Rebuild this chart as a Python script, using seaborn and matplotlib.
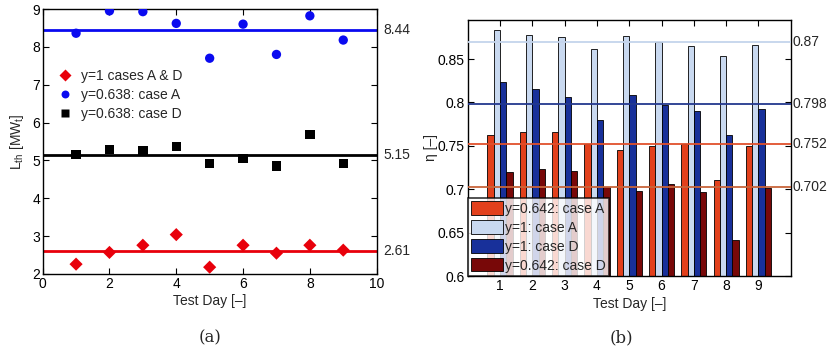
import numpy as np
import pandas as pd
import matplotlib
matplotlib.use("Agg")
import matplotlib.pyplot as plt
import seaborn as sns

# Test days
days = [1, 2, 3, 4, 5, 6, 7, 8, 9]

# Panel (a): thermal load per test day [MW_t]
load_y1_AD = [2.26, 2.57, 2.76, 3.04, 2.18, 2.76, 2.55, 2.76, 2.63]
load_y0638_A = [8.36, 8.95, 8.93, 8.62, 7.70, 8.60, 7.80, 8.82, 8.18]
load_y0638_D = [5.16, 5.29, 5.26, 5.36, 4.91, 5.05, 4.85, 5.69, 4.91]
load_means = [2.61, 8.44, 5.15]

# Panel (b): efficiency per test day [-]
eta_y0642_A = [0.762, 0.766, 0.766, 0.752, 0.745, 0.750, 0.752, 0.711, 0.750]
eta_y1_A = [0.883, 0.878, 0.875, 0.861, 0.877, 0.870, 0.865, 0.853, 0.866]
eta_y1_D = [0.823, 0.816, 0.806, 0.780, 0.808, 0.797, 0.790, 0.762, 0.792]
eta_y0642_D = [0.720, 0.723, 0.721, 0.703, 0.698, 0.706, 0.697, 0.642, 0.701]
eta_means = [0.87, 0.798, 0.752, 0.702]

series_labels = ["y=0.642: case A", "y=1: case A", "y=1: case D", "y=0.642: case D"]

sns.set_theme(style="white")
plt.rcParams["font.family"] = ["Liberation Sans", "DejaVu Sans"]
plt.rcParams["mathtext.fontset"] = "custom"
plt.rcParams["mathtext.rm"] = "Liberation Sans"

fig = plt.figure(figsize=(8.3, 3.52), dpi=100)
ax1 = fig.add_axes([0.0514, 0.2216, 0.4024, 0.7528])
ax2 = fig.add_axes([0.5635, 0.2159, 0.3892, 0.7273])

# ---------- (a) scatter of thermal load ----------
red, blue, black = "#e8000b", "#0a0af0", "#000000"
df_a = pd.DataFrame({
    "day": days * 3,
    "load": load_y1_AD + load_y0638_A + load_y0638_D,
    "series": (["y=1 cases A & D"] * 9 + ["y=0.638: case A"] * 9
               + ["y=0.638: case D"] * 9),
})
sns.scatterplot(data=df_a, x="day", y="load", hue="series", style="series",
                palette=[red, blue, black], markers=["D", "o", "s"],
                s=45, edgecolor="none", ax=ax1, legend=True, zorder=3)
for m, c in zip(load_means, [red, blue, black]):
    ax1.axhline(m, color=c, lw=2, zorder=2)
    ax1.text(1.02, m, f"{m:.2f}", transform=ax1.get_yaxis_transform(),
             va="center", ha="left", fontsize=10)
ax1.set_xlim(0, 10)
ax1.set_ylim(2, 9)
ax1.set_xticks(range(0, 11, 2))
ax1.set_yticks(range(2, 10))
ax1.set_xlabel("Test Day [\u2013]", fontsize=10, labelpad=2)
ax1.set_ylabel(r"L$_{\mathrm{th}}$ [MW$_{\mathrm{t}}$]", fontsize=10, labelpad=4)
ax1.legend(loc="upper left", bbox_to_anchor=(0.045, 0.775), frameon=False,
           fontsize=10, handlelength=1.0, handletextpad=0.7, borderaxespad=0,
           borderpad=0, labelspacing=0.38, markerscale=0.85)

# ---------- (b) grouped bars of efficiency ----------
bar_cols = ["#e2401c", "#c9d9f0", "#18309a", "#780808"]
line_cols = ["#c4d4ec", "#23388e", "#e0502c", "#c8643a"]
df_b = pd.DataFrame({
    "day": [str(d) for d in days] * 4,
    "eta": eta_y0642_A + eta_y1_A + eta_y1_D + eta_y0642_D,
    "series": sum([[lab] * 9 for lab in series_labels], []),
})
sns.barplot(data=df_b, x="day", y="eta", hue="series", hue_order=series_labels,
            palette=bar_cols, width=0.78, edgecolor="black", linewidth=0.6,
            saturation=1, ax=ax2, zorder=2)
for m, c in zip(eta_means, line_cols):
    ax2.axhline(m, color=c, lw=1.3, zorder=3)
    ax2.text(1.005, m, f"{m:g}", transform=ax2.get_yaxis_transform(),
             va="center", ha="left", fontsize=10)
ax2.set_xlim(-1, 9)
ax2.set_ylim(0.6, 0.895)
ax2.set_yticks([0.6, 0.65, 0.7, 0.75, 0.8, 0.85])
ax2.set_yticklabels(["0.6", "0.65", "0.7", "0.75", "0.8", "0.85"])
ax2.set_xlabel("Test Day [\u2013]", fontsize=10, labelpad=3)
ax2.set_ylabel("\u03b7 [\u2013]", fontsize=10, labelpad=0)
leg2 = ax2.legend(loc="lower left", bbox_to_anchor=(0.0, 0.0), fontsize=10,
                  frameon=True, fancybox=False, edgecolor="black",
                  handlelength=2.3, handleheight=1.1, handletextpad=0.1,
                  labelspacing=0.33, borderpad=0.25, borderaxespad=0)
leg2.get_frame().set_linewidth(1.2)

for ax in (ax1, ax2):
    for sp in ax.spines.values():
        sp.set_visible(True)
        sp.set_color("black")
        sp.set_linewidth(1.0)
    ax.tick_params(direction="in", length=4, width=0.8, labelsize=10,
                   top=True, right=True, bottom=True, left=True, pad=2,
                   colors="black")
    ax.grid(False)

fig.text(0.253, 0.04, "(a)", family="DejaVu Serif", fontsize=12,
         ha="center", va="center")
fig.text(0.749, 0.04, "(b)", family="DejaVu Serif", fontsize=12,
         ha="center", va="center")

fig.savefig("out.png", dpi=100)
